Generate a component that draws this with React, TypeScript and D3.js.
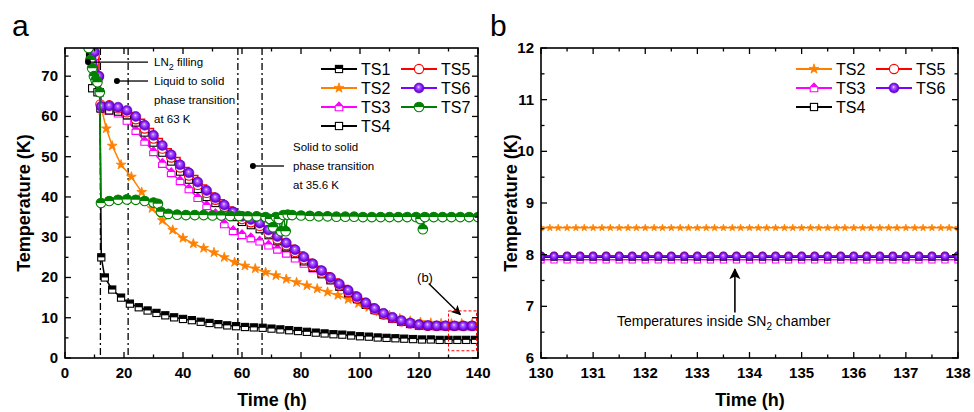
import * as d3 from 'd3';

const FONT = '"Liberation Sans", Arial, Helvetica, sans-serif';

// ---- panel a: [time (h), temperature (K)] ----
const ts1: [number, number][] = [[7,80],[8.5,75],[10,70],[11.8,66],[12.3,25],[13.5,20],[16,17],[19,15],[22,13.5],[25,12.6],[28,11.8],[31,11.2],[34,10.6],[37,10.1],[40,9.7],[43,9.4],[46,9],[49,8.7],[52,8.4],[55,8.1],[58,7.9],[61,7.7],[64,7.6],[67,7.5],[70,7.3],[73,7.1],[76,6.9],[79,6.7],[82,6.5],[85,6.3],[88,6.1],[91,5.9],[94,5.8],[97,5.6],[100,5.4],[103,5.3],[106,5.1],[109,5],[112,4.9],[115,4.8],[118,4.7],[121,4.6],[124,4.6],[127,4.5],[130,4.5],[133,4.5],[136,4.5],[139,4.5]];
const ts2: [number, number][] = [[7,80],[10,75],[11.5,70],[12.5,61.5],[14,57],[16,52.7],[19,48],[22.5,45],[26,41.2],[29.5,37.2],[33,34.2],[36.5,31.8],[40,29.8],[43.5,28.4],[47,27.3],[50.5,26.2],[54,25],[57.5,23.8],[61,22.9],[64.5,22.2],[68,21.3],[71.5,20.5],[75,19.6],[78.5,18.8],[82,18],[85.5,17.2],[89,16.4],[92.5,15.6],[96,14.6],[99.5,13.6],[103,12.6],[106.5,11.5],[110,10.6],[113.5,9.8],[117,9.2],[120.5,8.9],[124,8.7],[127.5,8.6],[131,8.55],[134.5,8.55],[138,8.55]];
const ts3: [number, number][] = [[7,80],[10,75],[11.5,70],[12.3,62],[15,61.5],[18,60.8],[21,59],[24,56.5],[27,53.8],[30,51.2],[33,48.3],[36,46],[39,44],[42,42],[45,39.8],[48,37.8],[51,35.8],[54,33.3],[57,31.6],[60,30.6],[63,29.8],[66,29],[69,28],[72,27],[75,26],[78,24.8],[81,23.5],[84,22.3],[87,21],[90,19.6],[93,18.1],[96,16.5],[99,14.9],[102,13.4],[105,12],[108,10.8],[111,9.8],[114,9],[117,8.5],[120,8.1],[123,7.95],[126,7.9],[129,7.9],[132,7.9],[135,7.9],[138,7.9]];
const ts4: [number, number][] = [[7,80],[9.2,67],[11,66],[12,62],[15,61.5],[18,61.2],[21,60.3],[24,58.5],[27,56],[30,53.5],[33,51],[36,48.8],[39,46.3],[42,44.3],[45,42],[48,40],[51,38.5],[54,36.7],[57,35],[60,33.8],[63,33],[66,32],[69,30.5],[72,29],[75,27.5],[78,25.8],[81,24],[84,22.4],[87,20.8],[90,19.3],[93,17.7],[96,16.1],[99,14.6],[102,13.2],[105,11.9],[108,10.7],[111,9.8],[114,9],[117,8.5],[120,8.1],[123,8],[126,7.95],[129,7.95],[132,7.95],[135,7.95],[138,7.95]];
const ts5: [number, number][] = [[7,80],[10,75],[11.5,70],[12,63],[15,62.8],[18,62],[21,61],[24,59.3],[27,57],[30,54.5],[33,52],[36,49.8],[39,47.3],[42,45.3],[45,43],[48,41],[51,39.3],[54,37.5],[57,35.8],[60,34.5],[63,33.7],[66,32.8],[69,31],[72,29.5],[75,28],[78,26.3],[81,24.5],[84,22.8],[87,21.2],[90,19.6],[93,18],[96,16.4],[99,14.8],[102,13.4],[105,12],[108,10.8],[111,9.9],[114,9.1],[117,8.6],[120,8.2],[123,8],[126,7.98],[129,7.98],[132,7.98],[135,7.98],[138,7.98]];
const ts6: [number, number][] = [[7,80],[10,76],[11.5,70],[12.3,62.5],[15,62.6],[18,62.3],[21,61.5],[24,60],[27,57.8],[30,55.3],[33,52.8],[36,50.5],[39,48],[42,46],[45,43.7],[48,41.6],[51,39.8],[54,38],[57,36.3],[60,35.2],[63,34.4],[66,33.5],[69,31.8],[72,30.2],[75,28.6],[78,26.9],[81,25.1],[84,23.4],[87,21.7],[90,20],[93,18.4],[96,16.8],[99,15.2],[102,13.7],[105,12.3],[108,11.1],[111,10.1],[114,9.3],[117,8.7],[120,8.3],[123,8.1],[126,8],[129,8],[132,7.97],[135,7.97],[138,7.97]];
const ts7: [number, number][] = [[7,80],[8,77],[8.6,74],[9.2,72],[9.8,70],[10.4,69],[11,68.5],[11.8,66],[12.2,38.5],[15,39],[18,39.3],[21,39.4],[24,39.3],[27,39],[30,38.6],[31.5,38.3],[32.5,36.3],[35,35.8],[38,35.6],[41,35.5],[44,35.5],[47,35.5],[50,35.4],[53,35.4],[56,35.3],[59,35.3],[62,35.2],[65,35.2],[68,35],[69.5,34.5],[70.5,32.5],[71.5,35],[72.5,34.5],[73.2,31.5],[74,35.5],[74.8,31.5],[75.5,35.6],[77,35.5],[80,35.4],[83,35.3],[86,35.2],[89,35.2],[92,35.1],[95,35.1],[98,35.1],[101,35],[104,35],[107,35],[110,35],[113,35],[116,35],[119,35],[120.5,34.5],[121.3,32],[122,35],[125,35],[128,35],[131,35],[134,35],[137,35],[140,35]];

const transitionTimes = [12, 21.4, 58.6, 66.8];

// ---- panel b ----
const rTimes = [130,130.25,130.5,130.75,131,131.25,131.5,131.75,132,132.25,132.5,132.75,133,133.25,133.5,133.75,134,134.25,134.5,134.75,135,135.25,135.5,135.75,136,136.25,136.5,136.75,137,137.25,137.5,137.75,138];
const rTimesTS2 = [130,130.17,130.33,130.5,130.67,130.83,131,131.17,131.33,131.5,131.67,131.83,132,132.17,132.33,132.5,132.67,132.83,133,133.17,133.33,133.5,133.67,133.83,134,134.17,134.33,134.5,134.67,134.83,135,135.17,135.33,135.5,135.67,135.83,136,136.17,136.33,136.5,136.67,136.83,137,137.17,137.33,137.5,137.67,137.83,138];
const rTS2 = [8.52,8.52,8.52,8.52,8.52,8.52,8.52,8.52,8.52,8.52,8.52,8.52,8.52,8.52,8.52,8.52,8.52,8.52,8.52,8.52,8.52,8.52,8.52,8.52,8.52,8.52,8.52,8.52,8.52,8.52,8.52,8.52,8.52,8.52,8.52,8.52,8.52,8.52,8.52,8.52,8.52,8.52,8.52,8.52,8.52,8.52,8.52,8.52,8.52];
const rTS3 = [7.9,7.9,7.9,7.9,7.9,7.9,7.9,7.9,7.9,7.9,7.9,7.9,7.9,7.9,7.9,7.9,7.9,7.9,7.9,7.9,7.9,7.9,7.9,7.9,7.9,7.9,7.9,7.9,7.9,7.9,7.9,7.9,7.9];
const rTS4 = [7.95,7.95,7.95,7.95,7.95,7.95,7.95,7.95,7.95,7.95,7.95,7.95,7.95,7.95,7.95,7.95,7.95,7.95,7.95,7.95,7.95,7.95,7.95,7.95,7.95,7.95,7.95,7.95,7.95,7.95,7.95,7.95,7.95];
const rTS5 = [7.98,7.98,7.98,7.98,7.98,7.98,7.98,7.98,7.98,7.98,7.98,7.98,7.98,7.98,7.98,7.98,7.98,7.98,7.98,7.98,7.98,7.98,7.98,7.98,7.98,7.98,7.98,7.98,7.98,7.98,7.98,7.98,7.98];
const rTS6 = [7.97,7.97,7.97,7.97,7.97,7.97,7.97,7.97,7.97,7.97,7.97,7.97,7.97,7.97,7.97,7.97,7.97,7.97,7.97,7.97,7.97,7.97,7.97,7.97,7.97,7.97,7.97,7.97,7.97,7.97,7.97,7.97,7.97];

// ticks
const aXMajor = [0, 20, 40, 60, 80, 100, 120, 140];
const aXMinor = [10, 30, 50, 70, 90, 110, 130];
const aYMajor = [0, 10, 20, 30, 40, 50, 60, 70];
const aYMinor = [5, 15, 25, 35, 45, 55, 65, 75];
const bXMajor = [130, 131, 132, 133, 134, 135, 136, 137, 138];
const bXMinor = [130.5, 131.5, 132.5, 133.5, 134.5, 135.5, 136.5, 137.5];
const bYMajor = [6, 7, 8, 9, 10, 11, 12];
const bYMinor = [6.5, 7.5, 8.5, 9.5, 10.5, 11.5];

const ORANGE = '#ff8000';
const MAGENTA = '#ff00ff';
const RED = '#ff0000';
const PURPLE = '#8000ff';
const GREEN = '#008000';

type Kind = 'halfSquare' | 'star' | 'house' | 'square' | 'circle' | 'sphere' | 'halfCircle';

function Marker({ kind, x, y, s = 1 }: { kind: Kind; x: number; y: number; s?: number }) {
  if (kind === 'halfSquare') {
    const h = 3.6 * s;
    return (
      <g>
        <rect x={x - h} y={y - h} width={2 * h} height={2 * h} fill="#fff" stroke="#000" strokeWidth={1.1} />
        <rect x={x - h} y={y - h} width={2 * h} height={h} fill="#000" />
      </g>
    );
  }
  if (kind === 'star') {
    const p = d3.symbol().type(d3.symbolStar).size(30 * s * s)();
    return <path d={p || ''} transform={`translate(${x},${y})`} fill={ORANGE} stroke={ORANGE} strokeWidth={0.8} />;
  }
  if (kind === 'house') {
    const h = 3.8 * s;
    return (
      <g transform={`translate(${x},${y})`}>
        <path d={`M${-h},${-h * 0.2}L0,${-h * 1.3}L${h},${-h * 0.2}L${h},${h}L${-h},${h}Z`} fill="#fff" stroke={MAGENTA} strokeWidth={1.1} />
        <path d={`M${-h},${-h * 0.2}L0,${-h * 1.3}L${h},${-h * 0.2}Z`} fill={MAGENTA} />
      </g>
    );
  }
  if (kind === 'square') {
    const h = 3.6 * s;
    return <rect x={x - h} y={y - h} width={2 * h} height={2 * h} fill="#fff" stroke="#000" strokeWidth={1.1} />;
  }
  if (kind === 'circle') {
    return <circle cx={x} cy={y} r={4.6 * s} fill="#fff" stroke={RED} strokeWidth={1.1} />;
  }
  if (kind === 'sphere') {
    return <circle cx={x} cy={y} r={5 * s} fill="url(#sphere)" stroke="#5a00b4" strokeWidth={0.5} />;
  }
  const r = 4.8 * s;
  return (
    <g>
      <circle cx={x} cy={y} r={r} fill="#fff" stroke={GREEN} strokeWidth={1.1} />
      <path d={`M${x - r},${y}A${r},${r} 0 0 1 ${x + r},${y}Z`} fill={GREEN} />
    </g>
  );
}

const seriesA = [
  { name: 'TS1', data: ts1, color: '#000', kind: 'halfSquare' as Kind },
  { name: 'TS2', data: ts2, color: ORANGE, kind: 'star' as Kind },
  { name: 'TS3', data: ts3, color: MAGENTA, kind: 'house' as Kind },
  { name: 'TS4', data: ts4, color: '#000', kind: 'square' as Kind, step: true },
  { name: 'TS5', data: ts5, color: RED, kind: 'circle' as Kind, step: true },
  { name: 'TS6', data: ts6, color: PURPLE, kind: 'sphere' as Kind },
  { name: 'TS7', data: ts7, color: GREEN, kind: 'halfCircle' as Kind },
];

const seriesB = [
  { name: 'TS2', t: rTimesTS2, v: rTS2, color: ORANGE, kind: 'star' as Kind },
  { name: 'TS3', t: rTimes, v: rTS3, color: MAGENTA, kind: 'house' as Kind },
  { name: 'TS4', t: rTimes, v: rTS4, color: '#000', kind: 'square' as Kind },
  { name: 'TS5', t: rTimes, v: rTS5, color: RED, kind: 'circle' as Kind },
  { name: 'TS6', t: rTimes, v: rTS6, color: PURPLE, kind: 'sphere' as Kind },
];

function Frame({ x, y, xMajor, xMinor, yMajor, yMinor }: any) {
  const [x0, x1] = x.range();
  const [y0, y1] = y.range();
  const M = 6, m = 3.5;
  return (
    <g>
      {xMajor.map((v: number) => (
        <g key={'xM' + v}>
          <line x1={x(v)} x2={x(v)} y1={y0} y2={y0 - M} stroke="#000" strokeWidth={1.3} />
          <line x1={x(v)} x2={x(v)} y1={y1} y2={y1 + M} stroke="#000" strokeWidth={1.3} />
          <text x={x(v)} y={378} textAnchor="middle" fontSize={15} fontWeight="bold" fontFamily={FONT}>{v}</text>
        </g>
      ))}
      {xMinor.map((v: number) => (
        <g key={'xm' + v}>
          <line x1={x(v)} x2={x(v)} y1={y0} y2={y0 - m} stroke="#000" strokeWidth={1.3} />
          <line x1={x(v)} x2={x(v)} y1={y1} y2={y1 + m} stroke="#000" strokeWidth={1.3} />
        </g>
      ))}
      {yMajor.map((v: number) => (
        <g key={'yM' + v}>
          <line x1={x0} x2={x0 + M} y1={y(v)} y2={y(v)} stroke="#000" strokeWidth={1.3} />
          <line x1={x1} x2={x1 - M} y1={y(v)} y2={y(v)} stroke="#000" strokeWidth={1.3} />
          <text x={x0 - 7} y={y(v) + 5} textAnchor="end" fontSize={15} fontWeight="bold" fontFamily={FONT}>{v}</text>
        </g>
      ))}
      {yMinor.map((v: number) => (
        <g key={'ym' + v}>
          <line x1={x0} x2={x0 + m} y1={y(v)} y2={y(v)} stroke="#000" strokeWidth={1.3} />
          <line x1={x1} x2={x1 - m} y1={y(v)} y2={y(v)} stroke="#000" strokeWidth={1.3} />
        </g>
      ))}
      <rect x={x0} y={y1} width={x1 - x0} height={y0 - y1} fill="none" stroke="#000" strokeWidth={1.6} />
    </g>
  );
}

function LegendRow({ x, y, color, kind, label }: { x: number; y: number; color: string; kind: Kind; label: string }) {
  return (
    <g>
      <line x1={x} x2={x + 36} y1={y} y2={y} stroke={color} strokeWidth={2} />
      <Marker kind={kind} x={x + 18} y={y} />
      <text x={x + 40} y={y + 5.8} fontSize={16} fontFamily={FONT}>{label}</text>
    </g>
  );
}

export default function App() {
  const xa = d3.scaleLinear().domain([0, 140]).range([65, 478]);
  const ya = d3.scaleLinear().domain([0, 77]).range([358, 48]);
  const xb = d3.scaleLinear().domain([130, 138]).range([541, 958]);
  const yb = d3.scaleLinear().domain([6, 12]).range([358, 48]);

  const lineA = (d: [number, number][], step?: boolean) =>
    d3.line<[number, number]>().x((p) => xa(p[0])).y((p) => ya(p[1])).curve(step ? d3.curveStepAfter : d3.curveLinear)(d) || '';
  const lineB = (t: number[], v: number[]) =>
    d3.line<number>().x((_, i) => xb(t[i])).y((p) => yb(p))(v) || '';

  return (
    <div style={{ position: 'absolute', left: 0, top: 0 }}>
      <svg width={974} height={412} style={{ display: 'block', background: '#fff' }} fontFamily={FONT}>
        <defs>
          <radialGradient id="sphere" cx="0.5" cy="0.5" r="0.55" fx="0.45" fy="0.38">
            <stop offset="0" stopColor="#f4e8ff" />
            <stop offset="0.22" stopColor="#b46cff" />
            <stop offset="0.65" stopColor="#8010f4" />
            <stop offset="1" stopColor="#5200a8" />
          </radialGradient>
          <clipPath id="clipA"><rect x={65} y={48} width={413} height={310} /></clipPath>
          <clipPath id="clipB"><rect x={541} y={48} width={417} height={310} /></clipPath>
          <marker id="arrow" viewBox="0 0 10 10" refX="9" refY="5" markerWidth="7" markerHeight="7" orient="auto">
            <path d="M0,0L10,5L0,10L2.5,5Z" fill="#000" />
          </marker>
        </defs>

        {/* panel a */}
        <text x={12} y={36} fontSize={30} fontFamily={FONT}>a</text>
        <g clipPath="url(#clipA)">
          {transitionTimes.map((t) => (
            <line key={t} x1={xa(t)} x2={xa(t)} y1={48} y2={358} stroke="#000" strokeWidth={1.3} strokeDasharray="7,3,2,3" />
          ))}
          {seriesA.map((s) => (
            <g key={s.name}>
              <path d={lineA(s.data, s.step)} fill="none" stroke={s.color} strokeWidth={1.5} />
              {s.data.map((p, i) => (
                <Marker key={i} kind={s.kind} x={xa(p[0])} y={ya(p[1])} />
              ))}
            </g>
          ))}
        </g>
        <Frame x={xa} y={ya} xMajor={aXMajor} xMinor={aXMinor} yMajor={aYMajor} yMinor={aYMinor} />

        {/* legend a */}
        <LegendRow x={321} y={69} color="#000" kind="halfSquare" label="TS1" />
        <LegendRow x={321} y={88} color={ORANGE} kind="star" label="TS2" />
        <LegendRow x={321} y={107} color={MAGENTA} kind="house" label="TS3" />
        <LegendRow x={321} y={126} color="#000" kind="square" label="TS4" />
        <LegendRow x={401} y={69} color={RED} kind="circle" label="TS5" />
        <LegendRow x={401} y={88} color={PURPLE} kind="sphere" label="TS6" />
        <LegendRow x={401} y={107} color={GREEN} kind="halfCircle" label="TS7" />

        {/* annotations a */}
        <g fontSize={11.5} fontFamily={FONT}>
          <circle cx={xa(7.8)} cy={ya(73.5)} r={3} fill="#000" />
          <line x1={xa(7.8)} x2={148} y1={ya(73.5)} y2={ya(73.5)} stroke="#000" strokeWidth={1.3} />
          <text x={154} y={ya(73.5) + 4}>LN<tspan dy={4} fontSize={9}>2</tspan><tspan dy={-4}> filling</tspan></text>
          <circle cx={xa(17.6)} cy={ya(68.8)} r={3} fill="#000" />
          <line x1={xa(17.6)} x2={148} y1={ya(68.8)} y2={ya(68.8)} stroke="#000" strokeWidth={1.3} />
          <text x={154} y={85}>Liquid to solid</text>
          <text x={154} y={104}>phase transition</text>
          <text x={154} y={123}>at 63 K</text>
          <text x={293} y={151}>Solid to solid</text>
          <circle cx={xa(63.7)} cy={166} r={3} fill="#000" />
          <line x1={xa(63.7)} x2={284} y1={166} y2={166} stroke="#000" strokeWidth={1.3} />
          <text x={293} y={170}>phase transition</text>
          <text x={293} y={189}>at 35.6 K</text>
          <text x={425} y={282} textAnchor="middle" fontSize={13}>(b)</text>
        </g>
        <line x1={xa(123.3)} y1={ya(18.5)} x2={xa(134)} y2={ya(10.8)} stroke="#000" strokeWidth={1.4} markerEnd="url(#arrow)" />
        <rect x={xa(130)} y={ya(11.7)} width={xa(139.5) - xa(130)} height={ya(1.8) - ya(11.7)} fill="none" stroke={RED} strokeWidth={1} strokeDasharray="3,2" />

        <text transform="translate(30,203) rotate(-90)" textAnchor="middle" fontSize={18} fontWeight="bold" fontFamily={FONT}>Temperature (K)</text>
        <text x={272} y={406} textAnchor="middle" fontSize={18} fontWeight="bold" fontFamily={FONT}>Time (h)</text>

        {/* panel b */}
        <text x={490} y={36} fontSize={30} fontFamily={FONT}>b</text>
        <g clipPath="url(#clipB)">
          {seriesB.map((s) => (
            <g key={s.name}>
              <path d={lineB(s.t, s.v)} fill="none" stroke={s.color} strokeWidth={1.5} />
              {s.v.map((v, i) => (
                <Marker key={i} kind={s.kind} x={xb(s.t[i])} y={yb(v)} s={s.kind === 'star' ? 0.7 : 0.82} />
              ))}
            </g>
          ))}
        </g>
        <Frame x={xb} y={yb} xMajor={bXMajor} xMinor={bXMinor} yMajor={bYMajor} yMinor={bYMinor} />

        <LegendRow x={796} y={69} color={ORANGE} kind="star" label="TS2" />
        <LegendRow x={796} y={88} color={MAGENTA} kind="house" label="TS3" />
        <LegendRow x={796} y={107} color="#000" kind="square" label="TS4" />
        <LegendRow x={876} y={69} color={RED} kind="circle" label="TS5" />
        <LegendRow x={876} y={88} color={PURPLE} kind="sphere" label="TS6" />

        <line x1={xb(133.72)} x2={xb(133.72)} y1={yb(6.88)} y2={yb(7.72)} stroke="#000" strokeWidth={1.6} markerEnd="url(#arrow)" />
        <text x={617} y={326} fontSize={14} fontFamily={FONT}>Temperatures inside SN<tspan dy={4} fontSize={10}>2</tspan><tspan dy={-4}> chamber</tspan></text>

        <text transform="translate(517,203) rotate(-90)" textAnchor="middle" fontSize={18} fontWeight="bold" fontFamily={FONT}>Temperature (K)</text>
        <text x={750} y={406} textAnchor="middle" fontSize={18} fontWeight="bold" fontFamily={FONT}>Time (h)</text>
      </svg>
    </div>
  );
}
